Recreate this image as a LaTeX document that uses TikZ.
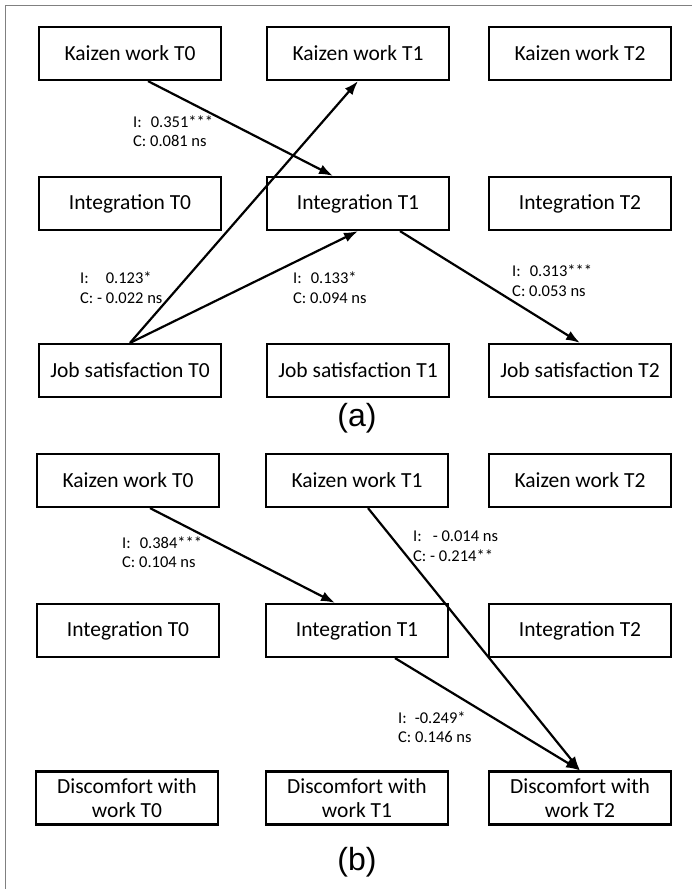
\documentclass[tikz,border=0pt]{standalone}
\usepackage{fontspec}
\setmainfont{Carlito}
\newfontfamily\capfont{Liberation Sans}
\usetikzlibrary{arrows.meta}

\begin{document}
\begin{tikzpicture}[x=1pt, y=-1pt,
    var/.style={draw, line width=2.2pt, minimum width=182pt, minimum height=53pt,
      inner sep=0pt, align=center, font=\fontsize{21.5}{24}\selectfont},
    coef/.style={anchor=west, align=left, inner sep=0pt, font=\fontsize{16.5}{19.5}\selectfont},
    effect/.style={-{Latex[length=14pt,width=10pt]}, line width=2.2pt}]
  \useasboundingbox (0,0) rectangle (692,889);
  \draw [gray, line width=1pt] (5,889) -- (5,5) -- (692,5);

  % (a) job satisfaction
  \node [var] (kzA0) at (130,53.5) {Kaizen work T0};
  \node [var] (kzA1) at (358,53.5) {Kaizen work T1};
  \node [var] (kzA2) at (580,53.5) {Kaizen work T2};
  \node [var] (intA0) at (130,203.5) {Integration T0};
  \node [var] (intA1) at (358,203.5) {Integration T1};
  \node [var] (intA2) at (580,203.5) {Integration T2};
  \node [var] (jsA0) at (130,370.5) {Job satisfaction T0};
  \node [var] (jsA1) at (358,370.5) {Job satisfaction T1};
  \node [var] (jsA2) at (580,370.5) {Job satisfaction T2};

  \draw [effect] ([xshift=18pt]kzA0.south) to ([xshift=-25pt]intA1.north);
  \draw [effect] (jsA0.north) to (kzA1.south);
  \draw [effect] (jsA0.north) to (intA1.south);
  \draw [effect] ([xshift=42pt]intA1.south) to (jsA2.north);

  \node [coef] (cfA1) at (133,131) {I:\hspace{9pt}0.351***\\C: 0.081 ns};
  \node [coef] (cfA2) at (80,287.5) {I:\hspace{17pt}0.123*\\C: - 0.022 ns};
  \node [coef] (cfA3) at (293,287.5) {I:\hspace{9pt}0.133*\\C: 0.094 ns};
  \node [coef] (cfA4) at (512,280.5) {I:\hspace{9pt}0.313***\\C: 0.053 ns};
  \node [font=\fontsize{32}{36}\selectfont\capfont] (capA) at (357,418) {(a)};

  % (b) discomfort with work
  \node [var] (kzB0) at (128,480.5) {Kaizen work T0};
  \node [var] (kzB1) at (357,480.5) {Kaizen work T1};
  \node [var] (kzB2) at (580,480.5) {Kaizen work T2};
  \node [var] (intB0) at (128,630.5) {Integration T0};
  \node [var] (intB1) at (357,630.5) {Integration T1};
  \node [var] (intB2) at (580,630.5) {Integration T2};
  \node [var] (dcB0) at (127,798) {Discomfort with\\work T0};
  \node [var] (dcB1) at (357,798) {Discomfort with\\work T1};
  \node [var] (dcB2) at (580,798) {Discomfort with\\work T2};

  \draw [effect] ([xshift=22pt]kzB0.south) to ([xshift=-22pt]intB1.north);
  \draw [effect] ([xshift=11pt]kzB1.south) to (dcB2.north);
  \draw [effect] ([xshift=38pt]intB1.south) to (dcB2.north);

  \node [coef] (cfB1) at (122,552) {I:\hspace{9pt}0.384***\\C: 0.104 ns};
  \node [coef] (cfB2) at (413,546) {I:\hspace{11pt}- 0.014 ns\\C: - 0.214**};
  \node [coef] (cfB3) at (398,727) {I:\hspace{8pt}-0.249*\\C: 0.146 ns};
  \node [font=\fontsize{32}{36}\selectfont\capfont] (capB) at (357,862) {(b)};
\end{tikzpicture}
\end{document}
